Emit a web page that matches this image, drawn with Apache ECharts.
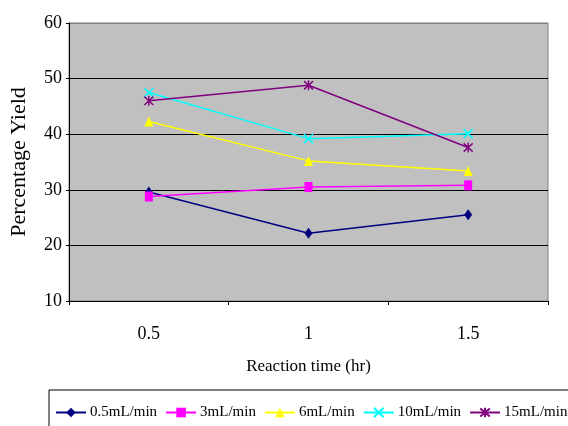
<!DOCTYPE html>
<html>
<head>
<meta charset="utf-8">
<script src="https://cdn.jsdelivr.net/npm/echarts@6/dist/echarts.min.js"></script>
<style>
  html, body { margin: 0; padding: 0; background: #fff; }
  #chart { width: 568px; height: 426px; }
</style>
</head>
<body>
<div id="chart"></div>
<script>
// Reaction time categories (hours)
var reactionTimes = ['0.5', '1', '1.5'];

// Percentage yield per flow rate
var flow05 = [29.6, 22.2, 25.5];
var flow3 = [28.8, 30.5, 30.8];
var flow6 = [42.3, 35.2, 33.4];
var flow10 = [47.5, 39.2, 40.1];
var flow15 = [46.0, 48.8, 37.6];

var seriesNames = ['0.5mL/min', '3mL/min', '6mL/min', '10mL/min', '15mL/min'];

var yTicks = [10, 20, 30, 40, 50, 60];

var FONT = '"Liberation Serif", "Times New Roman", serif';

var crossPath = 'path://M0,0L10,10M10,0L0,10';
var starPath = 'path://M0,0L10,10M10,0L0,10M5,-1L5,11';

function lineSeries(name, data, color, symbol, size, hollow) {
  return {
    name: name,
    type: 'line',
    data: data,
    symbol: symbol,
    symbolSize: size,
    showAllSymbol: true,
    lineStyle: { color: color, width: 1.5 },
    itemStyle: hollow
      ? { color: 'none', borderColor: color, borderWidth: 1.5 }
      : { color: color, borderWidth: 0 },
    emphasis: { disabled: true },
    z: 3
  };
}

var chart = echarts.init(document.getElementById('chart'), null, { renderer: 'canvas' });

chart.setOption({
  animation: false,
  backgroundColor: '#ffffff',
  textStyle: { fontFamily: FONT, color: '#000' },
  grid: {
    left: 69,
    top: 23,
    right: 20,
    bottom: 125,
    containLabel: false,
    outerBoundsMode: 'none',
    show: true,
    backgroundColor: '#c0c0c0',
    borderColor: '#808080',
    borderWidth: 1
  },
  legend: {
    left: 49,
    top: 390,
    width: 560,
    padding: [15, 20, 20, 6],
    itemGap: 8,
    itemWidth: 30,
    itemHeight: 12,
    borderColor: '#000',
    borderWidth: 1,
    borderRadius: 0,
    backgroundColor: '#fff',
    textStyle: { fontFamily: FONT, fontSize: 15, color: '#000', padding: [0, 0, 0, -1] },
    data: seriesNames
  },
  xAxis: {
    type: 'category',
    data: reactionTimes,
    boundaryGap: true,
    name: 'Reaction time (hr)',
    nameLocation: 'middle',
    nameGap: 57,
    nameTextStyle: { fontFamily: FONT, fontSize: 17, color: '#000' },
    axisLine: { lineStyle: { color: '#000', width: 1 } },
    axisTick: { show: true, inside: false, length: 4, lineStyle: { color: '#000' } },
    axisLabel: { fontFamily: FONT, fontSize: 18, color: '#000', margin: 24 },
    splitLine: { show: false }
  },
  yAxis: {
    type: 'value',
    min: yTicks[0],
    max: yTicks[yTicks.length - 1],
    interval: 10,
    name: 'Percentage Yield',
    nameLocation: 'middle',
    nameGap: 39,
    nameTextStyle: { fontFamily: FONT, fontSize: 22, color: '#000' },
    axisLine: { show: true, lineStyle: { color: '#000', width: 1 } },
    axisTick: { show: true, inside: false, length: 3, lineStyle: { color: '#000' } },
    axisLabel: { fontFamily: FONT, fontSize: 18, color: '#000', margin: 7 },
    splitLine: {
      show: true,
      lineStyle: { color: ['#000', '#000', '#000', '#000', '#000', '#808080'], width: 1 }
    }
  },
  series: [
    lineSeries(seriesNames[0], flow05, '#000080', 'diamond', [8, 11], false),
    lineSeries(seriesNames[1], flow3, '#ff00ff', 'rect', [8, 10], false),
    lineSeries(seriesNames[2], flow6, '#ffff00', 'triangle', [9, 10], false),
    lineSeries(seriesNames[3], flow10, '#00ffff', crossPath, [9, 9], true),
    lineSeries(seriesNames[4], flow15, '#800080', starPath, [9, 10], true)
  ]
});
</script>
</body>
</html>
